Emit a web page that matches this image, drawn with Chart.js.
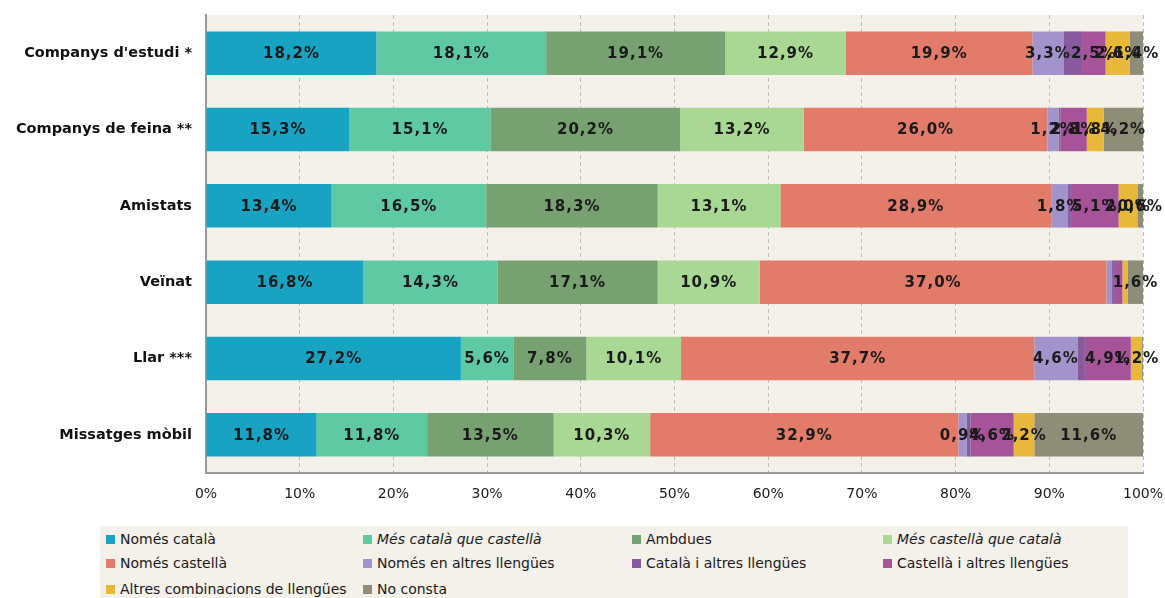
<!DOCTYPE html>
<html lang="ca">
<head>
<meta charset="utf-8">
<script src="https://cdn.jsdelivr.net/npm/chart.js@4/dist/chart.umd.min.js"></script>
<style>
  html, body { margin: 0; padding: 0; background: #fff; }
  body { width: 1165px; height: 598px; position: relative; overflow: hidden; font-family: 'DejaVu Sans', sans-serif; }
  #wrap { position: absolute; left: 0; top: 0; width: 1165px; height: 512px; }
  #llegenda {
    position: absolute; left: 100px; top: 526px; width: 1028px; height: 72px;
    background: #F4F0EA; box-sizing: border-box; padding: 0 0 0 6px;
  }
  .item { position: absolute; display: flex; align-items: center; font-size: 14px; color: #1a1a1a; white-space: nowrap; }
  .item .caixa { width: 9px; height: 9px; margin-right: 5px; }
  .item.it span:last-child { font-style: italic; }
</style>
</head>
<body>
<div id="wrap"><canvas id="barChart" width="1165" height="512"></canvas></div>
<div id="llegenda"></div>

<script>
// Dades: percentatges per àmbit d'ús de la llengua
const categories = ["Companys d'estudi *", 'Companys de feina **', 'Amistats', 'Veïnat', 'Llar ***', 'Missatges mòbil'];

const nomesCatala     = [18.2, 15.3, 13.4, 16.8, 27.2, 11.8];
const mesCatala       = [18.1, 15.1, 16.5, 14.3,  5.6, 11.8];
const ambdues         = [19.1, 20.2, 18.3, 17.1,  7.8, 13.5];
const mesCastella     = [12.9, 13.2, 13.1, 10.9, 10.1, 10.3];
const nomesCastella   = [19.9, 26.0, 28.9, 37.0, 37.7, 32.9];
const altresLlengues  = [ 3.3,  1.2,  1.8,  0.6,  4.6,  0.9];
const catalaAltres    = [ 2.0,  0.2,  0.3,  0.3,  0.8,  0.4];
const castellaAltres  = [ 2.5,  2.8,  5.1,  0.8,  4.9,  4.6];
const altresComb      = [ 2.6,  1.8,  2.0,  0.6,  1.2,  2.2];
const noConsta        = [ 1.4,  4.2,  0.6,  1.6,  0.1, 11.6];

const xTicks = [0, 10, 20, 30, 40, 50, 60, 70, 80, 90, 100];

// etiquetes que no surten al gràfic original: [fila, sèrie]
const senseEtiqueta = [[0, 6], [1, 6], [2, 6], [3, 5], [3, 6], [3, 7], [3, 8], [4, 6], [4, 9], [5, 6]];

const series = [
  { label: 'Només català',                 data: nomesCatala,    color: '#18A3C2' },
  { label: 'Més català que castellà',      data: mesCatala,      color: '#5EC9A2', italic: true },
  { label: 'Ambdues',                      data: ambdues,        color: '#78A172' },
  { label: 'Més castellà que català',      data: mesCastella,    color: '#A9D894', italic: true },
  { label: 'Només castellà',               data: nomesCastella,  color: '#E27B6A' },
  { label: 'Només en altres llengües',     data: altresLlengues, color: '#A293CC' },
  { label: 'Català i altres llengües',     data: catalaAltres,   color: '#865A9C' },
  { label: 'Castellà i altres llengües',   data: castellaAltres, color: '#A6539A' },
  { label: 'Altres combinacions de llengües', data: altresComb,  color: '#E8B83A' },
  { label: 'No consta',                    data: noConsta,       color: '#8E8E78' },
];

const fonsArea = {
  id: 'fonsArea',
  beforeDraw(chart) {
    const { ctx, chartArea: a } = chart;
    ctx.save();
    ctx.fillStyle = '#F4F0EA';
    ctx.fillRect(a.left, a.top, a.right - a.left, a.bottom - a.top);
    ctx.restore();
  }
};

const etiquetes = {
  id: 'etiquetes',
  afterDatasetsDraw(chart) {
    const ctx = chart.ctx;
    ctx.save();
    ctx.font = 'bold 15px "DejaVu Sans", sans-serif';
    ctx.letterSpacing = '1px';
    ctx.fillStyle = '#1a1a1a';
    ctx.textAlign = 'center';
    ctx.textBaseline = 'middle';
    chart.data.datasets.forEach((ds, si) => {
      const meta = chart.getDatasetMeta(si);
      meta.data.forEach((bar, fi) => {
        if (senseEtiqueta.some(p => p[0] === fi && p[1] === si)) return;
        const v = ds.data[fi];
        const c = bar.getCenterPoint();
        ctx.fillText(v.toFixed(1).replace('.', ',') + '%', c.x, c.y + 1);
      });
    });
    ctx.restore();
  }
};

function buildStackedChart() {
  const ctx = document.getElementById('barChart').getContext('2d');

  new Chart(ctx, {
    type: 'bar',
    data: {
      labels: categories,
      datasets: series.map(s => ({
        label: s.label,
        data: s.data,
        backgroundColor: s.color,
        borderWidth: 0,
        categoryPercentage: 1,
        barPercentage: 0.57,
      }))
    },
    options: {
      indexAxis: 'y',
      responsive: false,
      animation: false,
      layout: { padding: { top: 15, right: 22, left: 0, bottom: 0 } },
      plugins: {
        legend: { display: false },
        tooltip: { enabled: false }
      },
      scales: {
        x: {
          stacked: true,
          min: 0,
          max: 100,
          afterBuildTicks: s => { s.ticks = xTicks.map(v => ({ value: v })); },
          afterFit: s => { s.height = 39; s.paddingLeft = 0; s.paddingRight = 0; },
          grid: { color: '#BDBDBD', drawTicks: false },
          border: { display: true, color: '#9A9A9A', width: 2, dash: [4, 3] },
          ticks: {
            padding: 13,
            font: { family: "'DejaVu Sans', sans-serif", size: 14 },
            color: '#1a1a1a',
            callback: v => v + '%'
          }
        },
        y: {
          stacked: true,
          afterFit: s => { s.width = 206; s.paddingTop = 0; s.paddingBottom = 0; },
          grid: { display: false, drawTicks: false },
          border: { display: true, color: '#9A9A9A', width: 2 },
          ticks: {
            padding: 14,
            font: { family: "'DejaVu Sans', sans-serif", size: 14.5, weight: 'bold' },
            color: '#111'
          }
        }
      }
    },
    plugins: [fonsArea, etiquetes]
  });

  // Llegenda manual en 4 columnes
  const colX = [6, 263, 532, 783];
  const rowY = [13, 37, 63];
  const legend = document.getElementById('llegenda');
  legend.innerHTML = series.map((s, i) => `
    <div class="item${s.italic ? ' it' : ''}" style="left:${colX[i % 4]}px; top:${rowY[Math.floor(i / 4)] - 9}px; height:18px">
      <span class="caixa" style="background:${s.color}"></span>
      <span>${s.label}</span>
    </div>
  `).join('');
}

buildStackedChart();
</script>
</body>
</html>
